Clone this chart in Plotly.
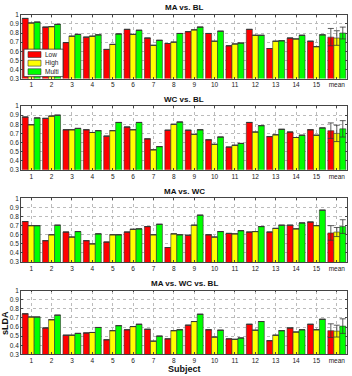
import plotly.graph_objects as go

subjects = [str(i) for i in range(1, 16)] + ["mean"]
series_names = ["Low", "High", "Multi"]
series_colors = ["#ff0000", "#ffff00", "#00ff00"]
panel_titles = ["MA vs. BL", "WC vs. BL", "MA vs. WC", "MA vs. WC vs. BL"]

# Panel 1: MA vs. BL
ma_bl_low = [0.96, 0.865, 0.695, 0.755, 0.62, 0.84, 0.745, 0.685, 0.815, 0.795, 0.66, 0.84, 0.63, 0.745, 0.71, 0.755]
ma_bl_high = [0.91, 0.87, 0.765, 0.765, 0.675, 0.785, 0.665, 0.70, 0.835, 0.71, 0.68, 0.775, 0.71, 0.735, 0.65, 0.745]
ma_bl_multi = [0.92, 0.895, 0.785, 0.78, 0.79, 0.83, 0.72, 0.795, 0.865, 0.82, 0.69, 0.775, 0.715, 0.775, 0.78, 0.80]
ma_bl_err = [0.095, 0.08, 0.065]

# Panel 2: WC vs. BL
wc_bl_low = [0.88, 0.865, 0.74, 0.74, 0.67, 0.77, 0.64, 0.735, 0.735, 0.63, 0.55, 0.82, 0.665, 0.715, 0.74, 0.73]
wc_bl_high = [0.795, 0.89, 0.74, 0.71, 0.73, 0.74, 0.52, 0.80, 0.69, 0.58, 0.57, 0.715, 0.685, 0.655, 0.68, 0.70]
wc_bl_multi = [0.87, 0.90, 0.755, 0.73, 0.82, 0.82, 0.555, 0.825, 0.74, 0.66, 0.59, 0.785, 0.745, 0.68, 0.76, 0.75]
wc_bl_err = [0.085, 0.09, 0.09]

# Panel 3: MA vs. WC
ma_wc_low = [0.745, 0.535, 0.63, 0.535, 0.52, 0.63, 0.69, 0.46, 0.595, 0.60, 0.615, 0.63, 0.63, 0.705, 0.74, 0.62]
ma_wc_high = [0.70, 0.60, 0.575, 0.50, 0.60, 0.66, 0.60, 0.61, 0.705, 0.575, 0.61, 0.635, 0.67, 0.665, 0.70, 0.63]
ma_wc_multi = [0.70, 0.705, 0.635, 0.61, 0.60, 0.665, 0.715, 0.60, 0.815, 0.635, 0.645, 0.69, 0.705, 0.73, 0.87, 0.69]
ma_wc_err = [0.08, 0.05, 0.075]

# Panel 4: MA vs. WC vs. BL
all_low = [0.745, 0.59, 0.51, 0.535, 0.46, 0.57, 0.575, 0.47, 0.62, 0.57, 0.47, 0.63, 0.45, 0.59, 0.63, 0.56]
all_high = [0.71, 0.68, 0.51, 0.54, 0.56, 0.605, 0.445, 0.56, 0.66, 0.49, 0.465, 0.565, 0.51, 0.545, 0.57, 0.555]
all_multi = [0.71, 0.73, 0.53, 0.595, 0.615, 0.63, 0.50, 0.57, 0.74, 0.565, 0.48, 0.66, 0.56, 0.57, 0.685, 0.61]
all_err = [0.075, 0.065, 0.08]

y_ticks = [0.3, 0.4, 0.5, 0.6, 0.7, 0.8, 0.9, 1.0]
y_ticktext = ["0.3", "0.4", "0.5", "0.6", "0.7", "0.8", "0.9", "1"]

panels = [
    ([ma_bl_low, ma_bl_high, ma_bl_multi], ma_bl_err),
    ([wc_bl_low, wc_bl_high, wc_bl_multi], wc_bl_err),
    ([ma_wc_low, ma_wc_high, ma_wc_multi], ma_wc_err),
    ([all_low, all_high, all_multi], all_err),
]

W, H = 352, 376
# pixel extents of each plot area (top, bottom)
panel_px = [(11, 76), (104, 169), (198, 263), (292, 357)]
x_px = (21, 347)

fig = go.Figure()
layout = dict(
    width=W, height=H,
    margin=dict(l=0, r=0, t=0, b=0),
    paper_bgcolor="white", plot_bgcolor="white",
    barmode="group", bargap=0.12, bargroupgap=0.0,
    font=dict(family="Liberation Sans, Arial, sans-serif", size=7, color="#222"),
    showlegend=False,
)
annotations = []
shapes = []
for p, ((series, errs), (top, bot)) in enumerate(zip(panels, panel_px)):
    idx = "" if p == 0 else str(p + 1)
    xa = "x" + idx
    ya = "y" + idx
    for s in range(3):
        err_arr = [None] * 15 + [errs[s]]
        fig.add_trace(go.Bar(
            x=subjects, y=series[s], name=series_names[s],
            marker=dict(color=series_colors[s], line=dict(color="#333", width=0.6)),
            error_y=dict(type="data", array=err_arr, color="#333", thickness=0.8, width=3),
            xaxis=xa, yaxis=ya,
        ))
    dom_y = [1 - bot / H, 1 - top / H]
    layout["xaxis" + idx] = dict(
        domain=[x_px[0] / W, x_px[1] / W], anchor=ya, type="category",
        showline=True, linecolor="#444", linewidth=0.8, mirror="ticks",
        ticks="inside", ticklen=2, tickcolor="#444",
        showgrid=True, gridcolor="#bbbbbb", griddash="dot", gridwidth=0.8,
        tickfont=dict(size=6.5), range=[-0.5, 15.5],
    )
    layout["yaxis" + idx] = dict(
        domain=dom_y, anchor=xa, range=[0.3, 1.0],
        tickvals=y_ticks, ticktext=y_ticktext,
        showline=True, linecolor="#444", linewidth=0.8, mirror="ticks",
        ticks="inside", ticklen=2, tickcolor="#444",
        showgrid=True, gridcolor="#bbbbbb", griddash="dot", gridwidth=0.8,
        tickfont=dict(size=6.5), zeroline=False,
    )
    annotations.append(dict(
        text="<b>" + panel_titles[p] + "</b>", x=(x_px[0] + x_px[1]) / 2 / W,
        y=1 - (top - 7) / H, xref="paper", yref="paper",
        showarrow=False, font=dict(size=8, color="#111"),
        xanchor="center", yanchor="middle",
    ))

# compact legend box inside the first panel (drawn as shapes + text)
lx0, ly0, lx1, ly1 = 24, 46, 63, 74
shapes.append(dict(type="rect", xref="paper", yref="paper",
                   x0=lx0 / W, x1=lx1 / W, y0=1 - ly1 / H, y1=1 - ly0 / H,
                   fillcolor="white", line=dict(color="#333", width=0.8), layer="above"))
row_y = [51.5, 60.3, 69]
for s in range(3):
    cy = row_y[s]
    shapes.append(dict(type="rect", xref="paper", yref="paper",
                       x0=28 / W, x1=41 / W, y0=1 - (cy + 3) / H, y1=1 - (cy - 3) / H,
                       fillcolor=series_colors[s], line=dict(color="#333", width=0.6),
                       layer="above"))
    annotations.append(dict(
        text=series_names[s], x=43 / W, y=1 - cy / H, xref="paper", yref="paper",
        showarrow=False, font=dict(size=6.5, color="#222"),
        xanchor="left", yanchor="middle",
    ))

annotations.append(dict(
    text="<b>Subject</b>", x=(x_px[0] + x_px[1]) / 2 / W, y=1 - 371.5 / H,
    xref="paper", yref="paper", showarrow=False, font=dict(size=9, color="#111"),
    xanchor="center", yanchor="middle",
))
annotations.append(dict(
    text="<b>sLDA</b>", x=5 / W, y=1 - 325 / H, textangle=-90,
    xref="paper", yref="paper", showarrow=False, font=dict(size=9, color="#111"),
    xanchor="center", yanchor="middle",
))
layout["annotations"] = annotations
layout["shapes"] = shapes
fig.update_layout(**layout)
fig.write_html("out.html")
